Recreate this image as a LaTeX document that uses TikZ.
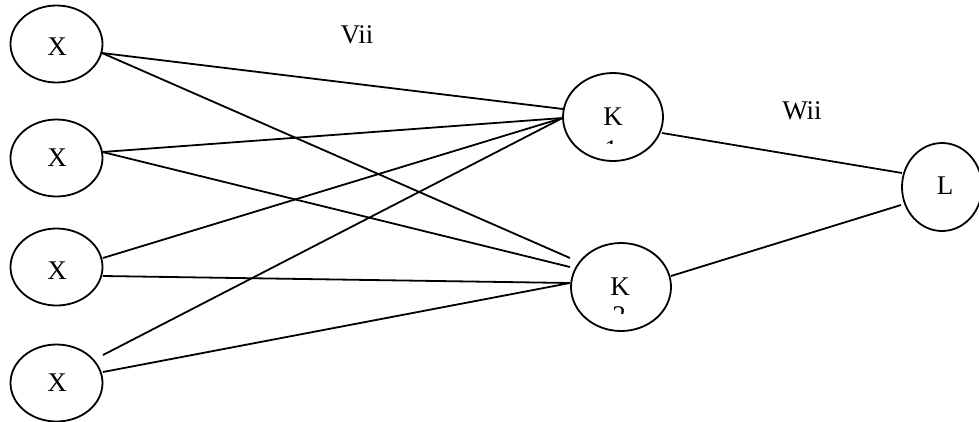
\documentclass[tikz,border=0pt]{standalone}
\usepackage{fontspec}
\setmainfont{Liberation Serif}
\usetikzlibrary{shapes.geometric}
\begin{document}
\begin{tikzpicture}[x=1pt,y=-1pt,
  neuron/.style={draw,ellipse,line width=1.8pt,inner sep=0pt},
  xnode/.style={neuron,minimum width=92pt,minimum height=77pt},
  knode/.style={neuron,minimum width=100pt,minimum height=88pt},
  lnode/.style={neuron,minimum width=80pt,minimum height=88pt},
  lbl/.style={font=\fontsize{27}{31}\selectfont,inner sep=0pt},
  wire/.style={line width=1.8pt}]
\useasboundingbox (0,0) rectangle (979,421);
% nodes
\node[xnode] (x1) at (56.5,44) {};
\node[xnode] (x2) at (56.5,158) {};
\node[xnode] (x3) at (56.5,267) {};
\node[xnode] (x4) at (56.5,383) {};
\node[knode] (k1) at (613,117) {};
\node[knode] (k2) at (621,287) {};
\node[lnode] (l) at (942,187) {};
% texts
\node[lbl] (tx1) at (57,47) {X};
\node[lbl] (tx2) at (57,158) {X};
\node[lbl] (tx3) at (57,271) {X};
\node[lbl] (tx4) at (57,383) {X};
\node[lbl] (tk1) at (613,117) {K};
\node[lbl] (tk2) at (620,287) {K};
\node[lbl] (tl) at (945,186) {L};
\node[lbl] (vii) at (357,35) {Vii};
\node[lbl] (wii) at (802,111) {Wii};
\begin{scope}
  \clip (580,130) rectangle (650,143.5);
  \node[lbl,anchor=north] (tk1s) at (611,140.5) {1};
\end{scope}
\begin{scope}
  \clip (590,300) rectangle (660,313);
  \node[lbl,anchor=north] (tk2s) at (619,306.5) {2};
\end{scope}
% connector end points
\coordinate (x1o) at (102,53);
\coordinate (x2o) at (102.5,152);
\coordinate (x3a) at (103,258);
\coordinate (x3b) at (103,276);
\coordinate (x4a) at (103,355);
\coordinate (x4b) at (103,372);
\coordinate (k1a) at (563,109);
\coordinate (k1b) at (562.5,118);
\coordinate (k2a) at (570,258);
\coordinate (k2b) at (570,267);
\coordinate (k2c) at (570,283);
\coordinate (k1o) at (662,133);
\coordinate (k2o) at (671,276);
\coordinate (la) at (902,173);
\coordinate (lb) at (901,205);
% connectors
\draw[wire] (x1o) -- (k1a);
\draw[wire] (x1o) -- (k2a);
\draw[wire] (x2o) -- (k1b);
\draw[wire] (x2o) -- (k2b);
\draw[wire] (x3a) -- (k1b);
\draw[wire] (x3b) -- (k2c);
\draw[wire] (x4a) -- (k1b);
\draw[wire] (x4b) -- (k2c);
\draw[wire] (k1o) -- (la);
\draw[wire] (k2o) -- (lb);
\end{tikzpicture}
\end{document}
